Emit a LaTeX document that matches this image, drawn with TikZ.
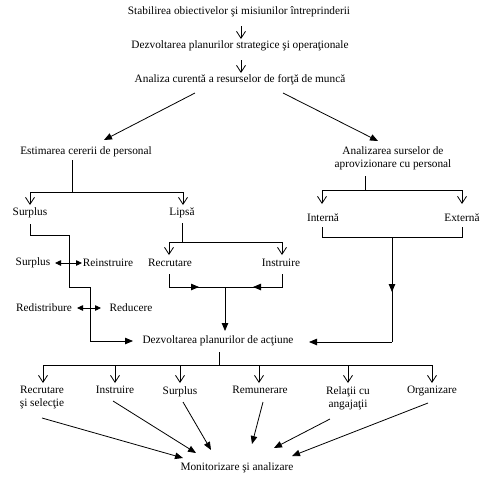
\documentclass[tikz,border=0pt]{standalone}
\usepackage{fontspec}
\setmainfont{Liberation Serif}
\usetikzlibrary{arrows.meta}
\begin{document}
\begin{tikzpicture}[x=1pt,y=-1pt,
  font=\fontsize{11.3}{12.8}\selectfont,
  line width=0.8pt,
  lbl/.style={inner sep=1pt, align=center},
  fa/.style={-{Triangle[length=8pt,width=6.5pt]}},
  oa/.style={-{Straight Barb[length=7pt,width=9pt,line width=0.8pt]}},
  da/.style={{Triangle[length=6pt,width=5.5pt]}-{Triangle[length=6pt,width=5.5pt]}}]
\useasboundingbox (0,0) rectangle (490,483);

% top chain
\node[lbl] (t1) at (239,12) {Stabilirea obiectivelor şi misiunilor întreprinderii};
\node[lbl] (t2) at (240,46) {Dezvoltarea planurilor strategice şi operaţionale};
\node[lbl] (t3) at (240,80) {Analiza curentă a resurselor de forţă de muncă};
\draw[oa] (241,26) -- (241,39);
\draw[oa] (241,60) -- (241,73);

\node[lbl] (est) at (86,152) {Estimarea cererii de personal};
\node[lbl] (ana) at (393,158) {Analizarea surselor de\\aprovizionare cu personal};
\draw[fa] (195,93) -- (104,140);
\draw[fa] (283,93) -- (378,141);

% left branch
\coordinate (j1) at (72,192);
\draw (72,160) -- (j1);
\draw (30,192) -- (183,192);
\node[lbl] (sur1) at (30,213) {Surplus};
\node[lbl] (lip) at (182,213) {Lipsă};
\draw[oa] (30,192) -- (30,205);
\draw[oa] (183,192) -- (183,205);

\node[lbl] (dpa) at (218,341) {Dezvoltarea planurilor de acţiune};

\node[lbl] (sur2) at (33,263) {Surplus};
\node[lbl] (rei) at (108,263) {Reinstruire};
\draw[da] (55,263) -- (82,263);
\node[lbl] (red) at (44,308) {Redistribure};
\node[lbl] (rdc) at (131,308) {Reducere};
\draw[da] (77,308) -- (101,308);

\draw[fa] (30,224) -- (30,235) -- (69,235) -- (69,287) -- (90,287) -- (90,341) -- (133,341);

% Lipsa branch
\draw (182,223) -- (182,242);
\draw (169,242) -- (282,242);
\node[lbl] (rec) at (170,263) {Recrutare};
\node[lbl] (ins) at (281,263) {Instruire};
\draw[oa] (169,242) -- (169,255);
\draw[oa] (282,242) -- (282,255);
\draw (169,287) -- (282,287);
\draw[fa] (169,274) -- (169,287) -- (199,287);
\draw[fa] (282,274) -- (282,287) -- (253,287);
\draw[fa] (225,287) -- (225,331);

% right branch
\draw (365,176) -- (365,190);
\draw (322,190) -- (462,190);
\draw[oa] (322,190) -- (322,204);
\draw[oa] (462,190) -- (462,204);
\node[lbl] (int) at (323,218) {Internă};
\node[lbl] (ext) at (462,218) {Externă};
\draw (322,227) -- (322,237) -- (462,237) -- (462,227);
\draw[fa] (392,237) -- (392,292);
\draw (392,288) -- (392,342);
\draw[fa] (392,342) -- (309,342);

% bottom tree
\draw (219,352) -- (219,365);
\draw (43,365) -- (432,365);
\foreach \x in {43,115,180,259,348,432} \draw[oa] (\x,365) -- (\x,383);
\node[lbl,anchor=north] (b1) at (42,385) {Recrutare\\şi selecţie};
\node[lbl,anchor=north] (b2) at (115,385) {Instruire};
\node[lbl,anchor=north] (b3) at (180,385) {Surplus};
\node[lbl,anchor=north] (b4) at (260,385) {Remunerare};
\node[lbl,anchor=north] (b5) at (348,385) {Relaţii cu\\angajaţii};
\node[lbl,anchor=north] (b6) at (432,385) {Organizare};

\node[lbl] (mon) at (237,468) {Monitorizare şi analizare};
\draw[fa] (42,418) -- (183,458);
\draw[fa] (113,401) -- (196,453);
\draw[fa] (183,402) -- (211,450);
\draw[fa] (263,402) -- (252,444);
\draw[fa] (330,419) -- (274,448);
\draw[fa] (428,403) -- (292,456);
\end{tikzpicture}
\end{document}
